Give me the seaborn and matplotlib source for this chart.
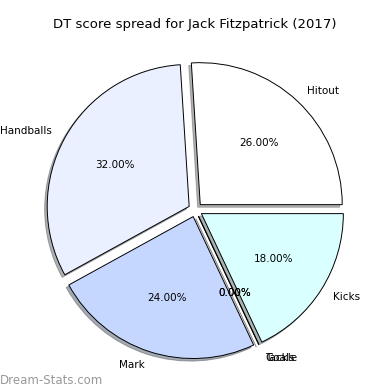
import matplotlib
matplotlib.use("Agg")
from matplotlib import pyplot as plt
import seaborn as sns

sns.set_style("white")
plt.rcParams["font.family"] = ["DejaVu Sans"]
plt.rcParams["text.color"] = "black"

# 数据
categories = ["Hitout", "Handballs", "Mark", "Goals", "Tackle", "Kicks"]
values = [26, 32, 24, 0, 0, 18]
colors = ["#ffffff", "#eaf0ff", "#c6d7ff", "#ffffff", "#ffffff", "#d9ffff"]
explode = [0.05] * len(categories)

fig = plt.figure(figsize=(3.9, 3.9), dpi=100)
ax = fig.add_axes([0.046, 0.007, 0.91, 0.91])
ax.pie(values, labels=categories, colors=colors, explode=explode,
       autopct="%1.2f%%", shadow={"ox": -0.013, "oy": -0.013, "shade": 0.6},
       wedgeprops={"edgecolor": "black", "linewidth": 0.7},
       textprops={"fontsize": 7.5, "color": "black"})
ax.set_aspect("equal")

# 标题和水印
fig.text(0.5, 0.936, "DT score spread for Jack Fitzpatrick (2017)",
         fontsize=9.5, ha="center", va="center")
fig.text(0.0, 0.015, "Dream-Stats.com", color="#999999", fontsize=8.5)

plt.savefig("out.png", dpi=100)
